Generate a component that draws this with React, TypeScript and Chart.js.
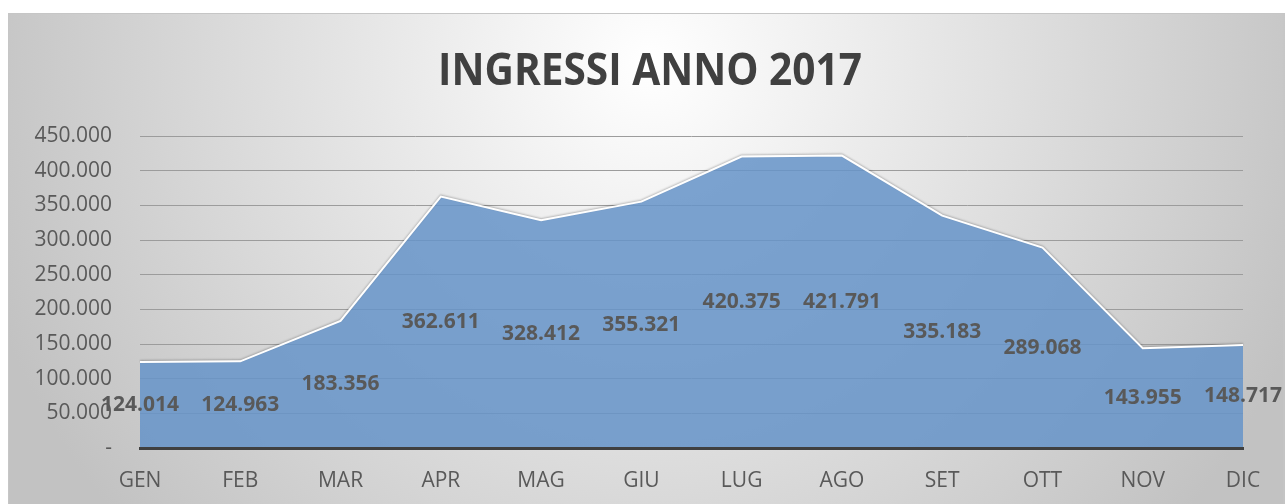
import React, { useEffect, useRef } from "react";
import { Chart, registerables } from "chart.js";

Chart.register(...registerables);

const TITLE = "INGRESSI ANNO 2017";
const MONTHS = ["GEN", "FEB", "MAR", "APR", "MAG", "GIU", "LUG", "AGO", "SET", "OTT", "NOV", "DIC"];
const INGRESSI = [124014, 124963, 183356, 362611, 328412, 355321, 420375, 421791, 335183, 289068, 143955, 148717];
const Y_MAX = 450000;
const Y_STEP = 50000;

const FONT = "'Open Sans', 'DejaVu Sans', sans-serif";
const TEXT_COLOR = "#595959";

function fmt(v: number): string {
  const s = Math.round(v).toString();
  return s.replace(/\B(?=(\d{3})+(?!\d))/g, ".");
}

const decorPlugin = {
  id: "decor",
  beforeDraw(chart: any) {
    const { ctx, width, height } = chart;
    ctx.save();
    const g = ctx.createRadialGradient(642, 50, 0, 642, 50, 700);
    g.addColorStop(0, "#ffffff");
    g.addColorStop(1, "#c2c2c2");
    ctx.fillStyle = g;
    ctx.fillRect(0, 0, width, height);
    ctx.strokeStyle = "#c6c6c6";
    ctx.lineWidth = 1;
    ctx.strokeRect(0.5, 0.5, width - 1.5, height + 10);
    // title
    ctx.font = `bold 45px ${FONT}`;
    ctx.fillStyle = "#404040";
    ctx.textBaseline = "alphabetic";
    ctx.textAlign = "left";
    const w = ctx.measureText(TITLE).width;
    const target = 424;
    const sx = target / w;
    ctx.translate(642 - target / 2, 72);
    ctx.scale(sx, 1);
    ctx.fillText(TITLE, 0, 0);
    ctx.restore();
  },
  beforeDatasetDraw(chart: any) {
    const { ctx } = chart;
    ctx.save();
    ctx.shadowColor = "rgba(0,0,0,0.25)";
    ctx.shadowOffsetY = -1;
    ctx.shadowBlur = 2;
  },
  afterDatasetDraw(chart: any) {
    chart.ctx.restore();
  },
  afterDatasetsDraw(chart: any) {
    const { ctx } = chart;
    const meta = chart.getDatasetMeta(0);
    const yScale = chart.scales.y;
    const y0 = yScale.getPixelForValue(0);
    const data = chart.data.datasets[0].data as number[];
    ctx.save();
    ctx.font = `bold 21px ${FONT}`;
    ctx.fillStyle = TEXT_COLOR;
    ctx.textAlign = "center";
    ctx.textBaseline = "middle";
    meta.data.forEach((pt: any, i: number) => {
      const y = (pt.y + y0) / 2;
      ctx.fillText(fmt(data[i]), pt.x, y);
    });
    ctx.restore();
  },
};

export default function App() {
  const ref = useRef<HTMLCanvasElement | null>(null);
  useEffect(() => {
    if (!ref.current) return;
    const chart = new Chart(ref.current, {
      type: "line",
      data: {
        labels: MONTHS,
        datasets: [
          {
            label: "Ingressi",
            data: INGRESSI,
            fill: "origin",
            backgroundColor: "rgba(102,148,200,0.86)",
            borderColor: "#ffffff",
            borderWidth: 2,
            pointRadius: 0,
            tension: 0,
          },
        ],
      },
      options: {
        responsive: false,
        animation: false,
        events: [],
        layout: { padding: { top: 123, right: 42, left: 0, bottom: 0 } },
        plugins: {
          legend: { display: false },
          title: { display: false },
          tooltip: { enabled: false },
        },
        scales: {
          x: {
            offset: false,
            grid: { display: false, drawTicks: false },
            border: { display: true, color: "#404040", width: 3, z: 1 },
            ticks: {
              color: TEXT_COLOR,
              font: { family: FONT, size: 21 },
              padding: 20,
              maxRotation: 0,
              autoSkip: false,
            },
            afterFit(scale: any) {
              scale.height = 56;
            },
          },
          y: {
            min: 0,
            max: Y_MAX,
            grid: { color: "#9c9c9c", lineWidth: 1, drawTicks: false },
            border: { display: false },
            ticks: {
              stepSize: Y_STEP,
              color: TEXT_COLOR,
              font: { family: FONT, size: 21 },
              padding: 28,
              callback: (v: any) => (Number(v) === 0 ? "-" : fmt(Number(v))),
            },
            afterFit(scale: any) {
              scale.width = 132;
            },
          },
        },
      },
      plugins: [decorPlugin],
    });
    return () => chart.destroy();
  }, []);
  return (
    <div style={{ position: "fixed", left: 8, top: 13, width: 1277, height: 491 }}>
      <canvas ref={ref} width={1277} height={491} style={{ display: "block" }} />
    </div>
  );
}
